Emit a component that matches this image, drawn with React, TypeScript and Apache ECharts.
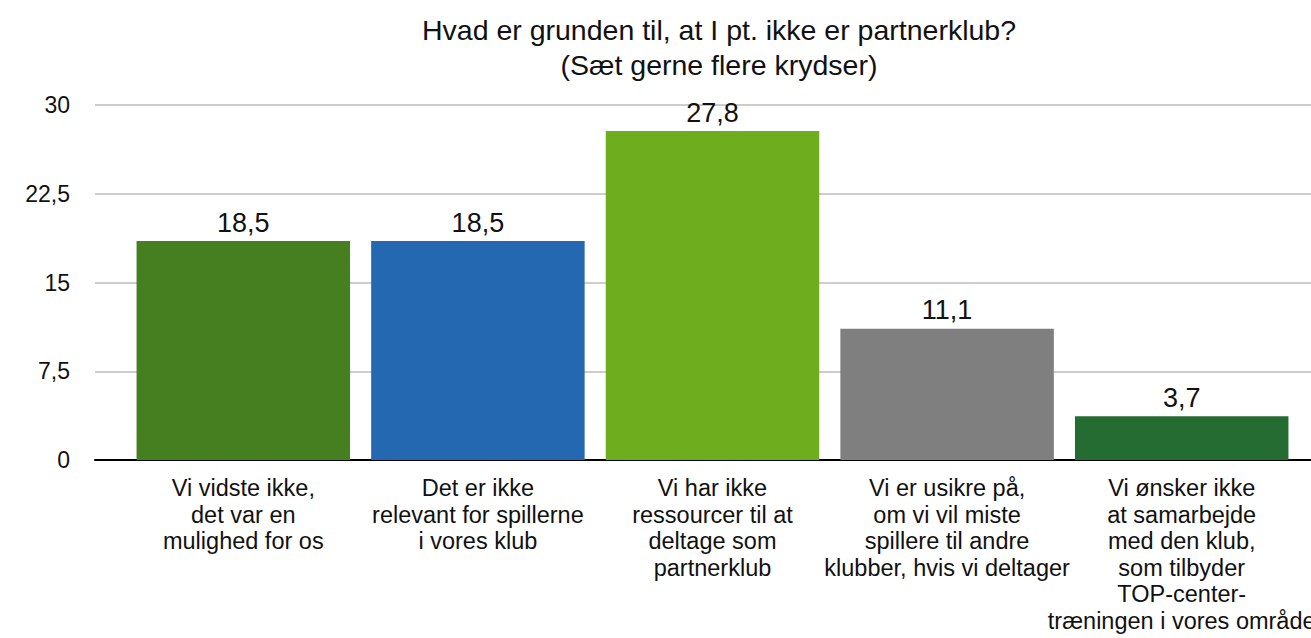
import React, { useEffect, useRef } from "react";
import * as echarts from "echarts";

const categories = [
  "Vi vidste ikke,\ndet var en\nmulighed for os",
  "Det er ikke\nrelevant for spillerne\ni vores klub",
  "Vi har ikke\nressourcer til at\ndeltage som\npartnerklub",
  "Vi er usikre på,\nom vi vil miste\nspillere til andre\nklubber, hvis vi deltager",
  "Vi ønsker ikke\nat samarbejde\nmed den klub,\nsom tilbyder\nTOP-center-\ntræningen i vores område",
];
const values = [18.5, 18.5, 27.8, 11.1, 3.7];
const colors = ["#467f1f", "#2468b2", "#6eae1e", "#7f7f7f", "#256c33"];
const yTicks = { min: 0, max: 30, interval: 7.5 };
const title = "Hvad er grunden til, at I pt. ikke er partnerklub?\n(Sæt gerne flere krydser)";

const FONT = "'Liberation Sans', Arial, Helvetica, sans-serif";

export default function App() {
  const ref = useRef<HTMLDivElement>(null);
  useEffect(() => {
    document.body.style.margin = "0";
    const chart = echarts.init(ref.current!, null, { renderer: "svg" });
    chart.setOption({
      animation: false,
      textStyle: { fontFamily: FONT },
      title: {
        text: title,
        left: 714,
        top: 7,
        textAlign: "center",
        textStyle: {
          fontFamily: FONT,
          fontSize: 28.5,
          fontWeight: "normal",
          color: "#111",
          lineHeight: 35,
        },
      },
      grid: [
        { left: 126, right: 12, top: 105, bottom: 178, containLabel: false, outerBoundsMode: "none" },
        { left: 95, right: 0, top: 105, bottom: 178, containLabel: false, outerBoundsMode: "none" },
      ],
      xAxis: [
        {
          type: "category",
          gridIndex: 0,
          data: categories,
          axisLine: { show: false },
          axisTick: { show: false },
          axisLabel: {
            interval: 0,
            margin: 15,
            fontFamily: FONT,
            fontSize: 23.5,
            lineHeight: 26.5,
            color: "#111",
            align: "center",
            hideOverlap: false,
          },
        },
        {
          type: "value",
          gridIndex: 1,
          min: 0,
          max: 1,
          axisLine: { show: true, onZero: false, lineStyle: { color: "#000", width: 2 } },
          axisTick: { show: false },
          axisLabel: { show: false },
          splitLine: { show: false },
        },
      ],
      yAxis: [
        {
          type: "value",
          gridIndex: 0,
          ...yTicks,
          axisLine: { show: false },
          axisTick: { show: false },
          axisLabel: { show: false },
          splitLine: { show: false },
        },
        {
          type: "value",
          gridIndex: 1,
          ...yTicks,
          axisLine: { show: false },
          axisTick: { show: false },
          axisLabel: {
            margin: 25,
            fontFamily: FONT,
            fontSize: 23,
            color: "#111",
            formatter: (v: number) => String(v).replace(".", ","),
          },
          splitLine: { show: true, lineStyle: { color: "#bdbdbd", width: 1.5 } },
        },
      ],
      series: [
        {
          type: "bar",
          xAxisIndex: 0,
          yAxisIndex: 0,
          barCategoryGap: "9%",
          data: values.map((v, i) => ({ value: v, itemStyle: { color: colors[i] } })),
          label: {
            show: true,
            position: "top",
            distance: 5,
            fontFamily: FONT,
            fontSize: 27,
            color: "#111",
            formatter: (p: any) => String(p.value).replace(".", ","),
          },
          z: 3,
        },
      ],
    });
    return () => chart.dispose();
  }, []);
  return <div ref={ref} style={{ width: 1311, height: 638 }} />;
}
